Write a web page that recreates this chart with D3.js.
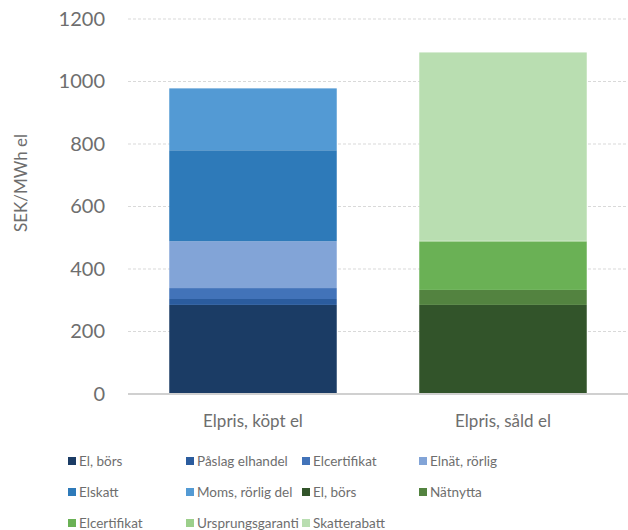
<!DOCTYPE html>
<html>
<head>
<meta charset="utf-8">
<script src="https://cdn.jsdelivr.net/npm/d3@7"></script>
<style>
  body { margin: 0; background: #fff; }
  text { font-family: Lato, "Open Sans", sans-serif; fill: #6e6e6e; }
</style>
</head>
<body>
<svg width="628" height="530"></svg>
<script>
let categories = ["Elpris, köpt el", "Elpris, såld el"]

// segments of each bar, bottom to top
let boughtNames = ["El, börs", "Påslag elhandel", "Elcertifikat", "Elnät, rörlig", "Elskatt", "Moms, rörlig del"]
let boughtValues = [285, 19, 35, 150, 291, 198]
let boughtColors = ["#1b3c65", "#2b5c9e", "#4273b9", "#82a4d7", "#2e7ab9", "#539ad4"]

let soldNames = ["El, börs", "Nätnytta", "Elcertifikat", "Ursprungsgaranti", "Skatterabatt"]
let soldValues = [285, 48, 155, 3, 602]
let soldColors = ["#32542a", "#538340", "#6ab155", "#9ccf8b", "#b9deb1"]

let yTicks = [0, 200, 400, 600, 800, 1000, 1200]

let margin = { top: 19, right: 0, bottom: 136, left: 128 },
    width = 628 - margin.left - margin.right,
    height = 530 - margin.top - margin.bottom

let svg = d3.select("svg")

let x = d3.scaleBand().domain(categories).range([0, width]).paddingInner(0.33).paddingOuter(0.165)
let y = d3.scaleLinear().domain([0, 1200]).range([height, 0])

let g = svg.append("g")
    .attr("transform", "translate(" + margin.left + "," + margin.top + ")")

// gridlines
g.selectAll(".grid")
    .data(yTicks.filter(d => d > 0))
    .enter().append("line")
    .attr("x1", 0).attr("x2", width)
    .attr("y1", d => y(d)).attr("y2", d => y(d))
    .attr("stroke", "#d9d9d9")
    .attr("stroke-width", 1)
    .attr("stroke-dasharray", "3,2")

function stackOf(values, names, colors, cat) {
    let acc = 0
    return values.map((v, i) => {
        let s = { cat: cat, name: names[i], color: colors[i], y0: acc, y1: acc + v }
        acc += v
        return s
    })
}

let segments = stackOf(boughtValues, boughtNames, boughtColors, categories[0])
    .concat(stackOf(soldValues, soldNames, soldColors, categories[1]))

g.selectAll(".seg")
    .data(segments)
    .enter().append("rect")
    .attr("x", d => x(d.cat))
    .attr("width", x.bandwidth())
    .attr("y", d => y(d.y1))
    .attr("height", d => y(d.y0) - y(d.y1))
    .attr("fill", d => d.color)

// baseline
g.append("line")
    .attr("x1", 0).attr("x2", width)
    .attr("y1", y(0)).attr("y2", y(0))
    .attr("stroke", "#d0d0d0")
    .attr("stroke-width", 2)

// y axis labels
let yAxis = d3.axisLeft(y).tickValues(yTicks).tickFormat(d3.format("d")).tickSize(0).tickPadding(23)
g.append("g").call(yAxis)
    .call(a => a.select(".domain").remove())
    .selectAll("text")
    .style("font-size", "20px")
    .attr("fill", "#6e6e6e")

// x axis labels
let xAxis = d3.axisBottom(x).tickSize(0).tickPadding(21)
g.append("g")
    .attr("transform", "translate(0," + height + ")")
    .call(xAxis)
    .call(a => a.select(".domain").remove())
    .selectAll("text")
    .style("font-size", "17px")
    .attr("fill", "#6e6e6e")

// y title
svg.append("text")
    .attr("transform", "translate(27,183) rotate(-90)")
    .attr("text-anchor", "middle")
    .style("font-size", "17px")
    .text("SEK/MWh el")

// legend
let legendItems = boughtNames.map((n, i) => ({ name: n, color: boughtColors[i] }))
    .concat(soldNames.map((n, i) => ({ name: n, color: soldColors[i] })))
let colX = [68, 186, 302, 419], rowY = [461, 492, 523]

let leg = svg.selectAll(".leg")
    .data(legendItems)
    .enter().append("g")
    .attr("transform", (d, i) => "translate(" + colX[i % 4] + "," + rowY[Math.floor(i / 4)] + ")")

leg.append("rect")
    .attr("x", 0).attr("y", -4)
    .attr("width", 8).attr("height", 8)
    .attr("fill", d => d.color)

leg.append("text")
    .attr("x", 11)
    .attr("dy", "0.35em")
    .style("font-size", "13.5px")
    .text(d => d.name)
</script>
</body>
</html>
